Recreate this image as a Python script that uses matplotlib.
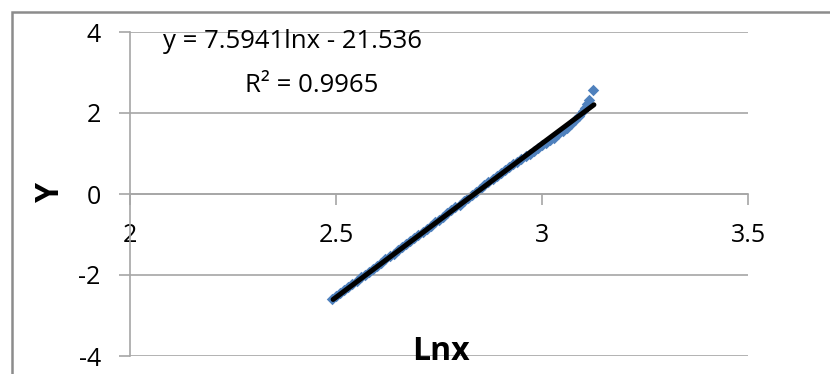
import matplotlib
matplotlib.use("Agg")
import matplotlib.pyplot as plt
from matplotlib.patches import Rectangle

plt.rcParams['font.family'] = ['Open Sans', 'DejaVu Sans']
plt.rcParams['axes.unicode_minus'] = False

# scatter data (Lnx, Y)
lnx = [2.49, 2.50, 2.51, 2.52, 2.53, 2.54, 2.55, 2.56, 2.57, 2.58,
       2.59, 2.60, 2.61, 2.62, 2.63, 2.64, 2.65, 2.66, 2.67, 2.68,
       2.69, 2.70, 2.71, 2.72, 2.73, 2.74, 2.75, 2.76, 2.77, 2.78,
       2.79, 2.80, 2.81, 2.82, 2.83, 2.84, 2.85, 2.86, 2.87, 2.88,
       2.89, 2.90, 2.91, 2.92, 2.93, 2.94, 2.95, 2.96, 2.97, 2.98,
       2.99, 3.00, 3.01, 3.02, 3.03, 3.04, 3.05, 3.06, 3.07, 3.08,
       3.09, 3.10, 3.105, 3.11, 3.115, 3.123]
y_vals = [-2.60, -2.52, -2.44, -2.36, -2.30, -2.22, -2.15, -2.06, -2.00, -1.93,
          -1.84, -1.77, -1.70, -1.60, -1.53, -1.47, -1.38, -1.31, -1.24, -1.15,
          -1.09, -1.01, -0.93, -0.86, -0.79, -0.70, -0.63, -0.56, -0.47, -0.40,
          -0.33, -0.26, -0.17, -0.10, -0.02, 0.06, 0.13, 0.21, 0.29, 0.36,
          0.44, 0.52, 0.59, 0.66, 0.73, 0.80, 0.87, 0.93, 1.00, 1.06,
          1.13, 1.20, 1.26, 1.33, 1.39, 1.47, 1.55, 1.63, 1.72, 1.82,
          1.92, 2.04, 2.12, 2.22, 2.32, 2.57]

# trendline coefficients as shown in the label
slope = 7.5941
intercept = -21.536
trend_x = [2.493, 3.126]

x_ticks = [2, 2.5, 3, 3.5]
y_ticks = [-4, -2, 0, 2, 4]

fig = plt.figure(figsize=(8.3, 3.74), dpi=100)
ax = fig.add_axes([130 / 830, 18 / 374, 618 / 830, 324 / 374])

grid_c = '#a6a6a6'
for yt in y_ticks:
    ax.axhline(yt, color=grid_c, lw=1.2, zorder=0)

ax.scatter(lnx, y_vals, marker='D', s=34, color='#4f81bd', zorder=2, linewidths=0)
trend_y = [slope * v + intercept for v in trend_x]
ax.plot(trend_x, trend_y, color='black', lw=3.6, solid_capstyle='round', zorder=3)

ax.set_xlim(2, 3.5)
ax.set_ylim(-4, 4)
ax.set_xticks(x_ticks)
ax.set_xticklabels(['2', '2.5', '3', '3.5'])
ax.set_yticks(y_ticks)

for s in ['top', 'right']:
    ax.spines[s].set_visible(False)
ax.spines['bottom'].set_position(('data', 0))
ax.spines['bottom'].set_color(grid_c)
ax.spines['bottom'].set_linewidth(1.2)
ax.spines['left'].set_color(grid_c)
ax.spines['left'].set_linewidth(1.2)

ax.tick_params(axis='x', direction='out', length=8, width=1.2, color=grid_c,
               pad=13, labelsize=18)
ax.tick_params(axis='y', direction='out', length=8, width=1.2, color=grid_c,
               pad=13, labelsize=18)

ax.text(163 / 830, 1 - 41 / 374, 'y = 7.5941lnx - 21.536', transform=fig.transFigure,
        fontsize=18.5, va='center', ha='left')
ax.text(245 / 830, 1 - 85 / 374, 'R² = 0.9965', transform=fig.transFigure,
        fontsize=18.5, va='center', ha='left')

fig.text(50 / 830, 1 - 192 / 374, 'Y', rotation=90, fontsize=23, fontweight='bold',
         va='center', ha='center')
fig.text(441 / 830, 1 - 351 / 374, 'Lnx', fontsize=23, fontweight='bold',
         va='center', ha='center')

# outer chart border (only top and left visible in the crop)
fig.patches.append(Rectangle((12 / 830, -0.1), 1.1, 1.1 - 12 / 374,
                             transform=fig.transFigure, fill=False,
                             edgecolor='#8c8c8c', lw=1.8, clip_on=False))

fig.savefig('out.png', dpi=100)
